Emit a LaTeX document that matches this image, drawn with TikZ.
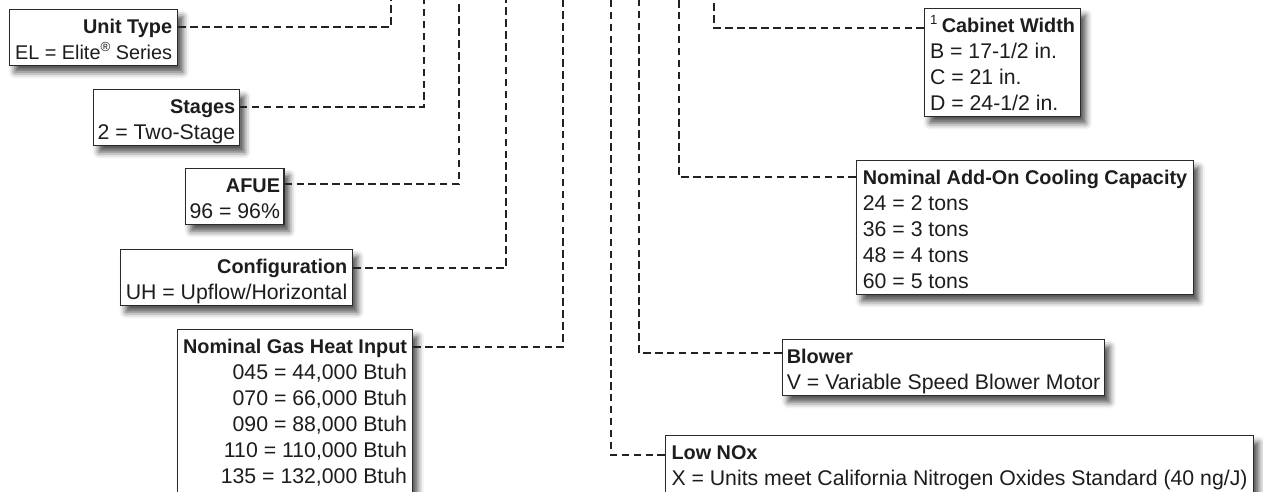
\documentclass[tikz,border=0pt]{standalone}
\usepackage{fontspec}
\setmainfont{Liberation Sans}
\usetikzlibrary{shadows.blur}
\definecolor{Ink}{HTML}{1E1C1D}
\definecolor{Frame}{HTML}{2A2A2A}
\definecolor{Leader}{HTML}{222222}
\newcommand{\boxtop}{\rule{0pt}{13.4pt}}
\newcommand{\boxbot}{\rule[-3.4pt]{0pt}{3.4pt}}
\newcommand{\boxcut}{\rule[-10pt]{0pt}{10pt}}
\newcommand{\hdr}[1]{{\fontsize{11.3}{14.8}\selectfont\bfseries #1}}
\newcommand{\smallsup}[1]{{\fontsize{7.5}{7.5}\selectfont\raisebox{4.3pt}{#1}}}

\begin{document}
\begin{tikzpicture}[x=0.02cm,y=-0.02cm,every node/.style={font=\fontsize{12.1}{14.8}\selectfont,text=Ink},codebox/.style={draw=Frame,line width=0.65pt,fill=white,anchor=north west,inner xsep=0.08cm,inner ysep=0pt,blur shadow={shadow xshift=3pt,shadow yshift=-4pt,shadow blur radius=3.5pt,shadow opacity=70}},leftbox/.style={codebox,align=right},rightbox/.style={codebox,align=left},leader/.style={draw=Leader,line width=1.5pt,dash pattern=on 4.3pt off 2.5pt}]
\useasboundingbox (0,0) rectangle (1263,491);
\clip (0,0) rectangle (1263,491);
% code boxes on the left
\node[leftbox,minimum width=3.36cm] (unit) at (9,9) {\boxtop\hdr{Unit Type}\\{\fontsize{11.3}{14.8}\selectfont EL = Elite\smallsup{®} Series}\boxbot};
\node[leftbox,minimum width=2.84cm] (stages) at (93,89) {\boxtop\hdr{Stages}\\2 = Two-Stage\boxbot};
\node[leftbox,minimum width=1.9cm] (afue) at (185,168) {\boxtop\hdr{AFUE}\\96 = 96\%\boxbot};
\node[leftbox,minimum width=4.64cm] (config) at (120,249) {\boxtop\hdr{Configuration}\\UH = Upflow/Horizontal\boxbot};
\node[leftbox,minimum width=4.7cm] (heat) at (177,329) {\boxtop\hdr{Nominal Gas Heat Input}\\045 = 44,000 Btuh\\070 = 66,000 Btuh\\090 = 88,000 Btuh\\110 = 110,000 Btuh\\135 = 132,000 Btuh\boxcut};
% code boxes on the right
\node[rightbox,minimum width=3.12cm] (width) at (924,8) {\boxtop\smallsup{1}\kern2.5pt\hdr{Cabinet Width}\\B = 17-1/2 in.\\C = 21 in.\\D = 24-1/2 in.\boxbot};
\node[rightbox,minimum width=6.74cm] (cooling) at (856,160) {\boxtop\hdr{Nominal Add-On Cooling Capacity}\\24 = 2 tons\\36 = 3 tons\\48 = 4 tons\\60 = 5 tons\boxbot};
\node[rightbox,minimum width=6.44cm] (blower) at (782,339) {\boxtop\hdr{Blower}\\V = Variable Speed Blower Motor\boxbot};
\node[rightbox,minimum width=11.76cm] (nox) at (665,435) {\boxtop\hdr{Low NOx}\\X = Units meet California Nitrogen Oxides Standard (40 ng/J)\boxcut};
% leader ends above the picture
\coordinate (unitT) at (391,-2);
\coordinate (stagesT) at (424,-2);
\coordinate (afueT) at (459,-2);
\coordinate (configT) at (506,-2);
\coordinate (heatT) at (563,-2);
\coordinate (noxT) at (611,-2);
\coordinate (blowerT) at (639,-2);
\coordinate (coolingT) at (679,-2);
\coordinate (widthT) at (714,-2);
% leaders
\draw[leader] (unit.north east) ++(0,18) -| (unitT);
\draw[leader] (stages.north east) ++(0,18) -| (stagesT);
\draw[leader] (afue.north east) ++(0,16) -| (afueT);
\draw[leader] (config.north east) ++(0,19) -| (configT);
\draw[leader] (heat.north east) ++(0,18) -| (heatT);
\draw[leader] (width.north west) ++(0,20) -| (widthT);
\draw[leader] (cooling.north west) ++(0,17) -| (coolingT);
\draw[leader] (blower.north west) ++(0,14) -| (blowerT);
\draw[leader] (nox.north west) ++(0,20) -| (noxT);
\end{tikzpicture}
\end{document}
